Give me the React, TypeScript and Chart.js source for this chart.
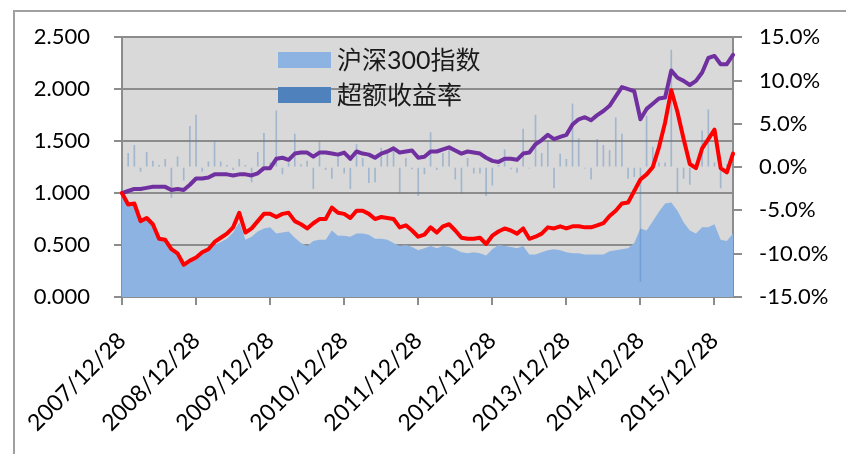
import React, { useEffect, useRef } from 'react';
import { Chart, registerables } from 'chart.js';

Chart.register(...registerables);

// Year tick labels shown on the x axis (every 12th month)
const yearTickLabels = [
  '2007/12/28', '2008/12/28', '2009/12/28', '2010/12/28', '2011/12/28',
  '2012/12/28', '2013/12/28', '2014/12/28', '2015/12/28',
];

// Monthly categories from 2007/12/28 (100 months)
const categories: string[] = [];
for (let i = 0; i < 100; i++) {
  const m = (11 + i) % 12 + 1;
  const y = 2007 + Math.floor((11 + i) / 12);
  categories.push(`${y}/${m}/28`);
}

const hs300 = [
  1.00, 0.89, 0.90, 0.73, 0.76, 0.70, 0.56, 0.55, 0.46, 0.42,
  0.31, 0.35, 0.38, 0.42, 0.45, 0.50, 0.53, 0.56, 0.62, 0.72,
  0.55, 0.58, 0.63, 0.66, 0.67, 0.61, 0.62, 0.63, 0.57, 0.52,
  0.49, 0.54, 0.55, 0.55, 0.64, 0.59, 0.59, 0.58, 0.61, 0.61,
  0.60, 0.56, 0.56, 0.55, 0.52, 0.49, 0.50, 0.48, 0.45, 0.47,
  0.49, 0.47, 0.49, 0.48, 0.46, 0.43, 0.42, 0.43, 0.42, 0.40,
  0.46, 0.50, 0.49, 0.48, 0.47, 0.49, 0.41, 0.41, 0.43, 0.45,
  0.46, 0.45, 0.43, 0.42, 0.42, 0.41, 0.41, 0.41, 0.41, 0.44,
  0.45, 0.46, 0.47, 0.52, 0.66, 0.64, 0.73, 0.82, 0.90, 0.91,
  0.83, 0.72, 0.64, 0.61, 0.67, 0.67, 0.70, 0.55, 0.54, 0.61,
];

const excessReturn = [
  0, 1.6, 2.5, -0.5, 1.7, 0.7, 0.2, 0.9, -3.5, 1.2,
  -1.5, 4.7, 6.0, -0.5, 0.6, 3.0, 0.6, 0.2, -0.3, 0.9,
  0.2, -1.7, 1.7, 3.9, 0.5, 6.5, -0.8, 0.5, 3.8, 0.3,
  0.7, -2.5, 3.0, -0.3, -1.3, 1.1, -0.7, -2.5, 2.6, 1.0,
  -1.8, -1.7, 2.2, 1.5, 2.3, -3.0, 1.0, -0.2, -3.3, -0.8,
  4.0, -0.3, 1.6, 1.9, -1.4, -3.0, 1.0, -0.7, -0.7, -3.3,
  -2.1, 0.2, 2.0, -0.2, -0.6, 4.4, -0.1, 6.0, 1.6, 3.0,
  -2.4, 1.5, 0.9, 7.3, 3.3, -0.1, -1.4, 3.2, 2.5, 1.9,
  5.7, 3.8, -1.3, -1.1, -13.2, 5.9, 2.3, 0.5, 0.5, 13.5,
  -3.0, -1.3, -2.0, 0.3, 4.2, 6.6, 0.5, -2.4, 0.3, 0,
];

const strategyNav = [
  1.00, 0.89, 0.90, 0.73, 0.76, 0.70, 0.56, 0.55, 0.46, 0.42,
  0.31, 0.35, 0.38, 0.43, 0.46, 0.53, 0.57, 0.61, 0.67, 0.81,
  0.62, 0.66, 0.73, 0.80, 0.80, 0.77, 0.80, 0.81, 0.73, 0.70,
  0.66, 0.71, 0.75, 0.75, 0.86, 0.81, 0.80, 0.76, 0.83, 0.83,
  0.80, 0.75, 0.77, 0.76, 0.75, 0.67, 0.69, 0.64, 0.58, 0.60,
  0.67, 0.62, 0.68, 0.70, 0.64, 0.57, 0.56, 0.56, 0.57, 0.51,
  0.59, 0.63, 0.66, 0.64, 0.61, 0.66, 0.56, 0.58, 0.61, 0.67,
  0.66, 0.68, 0.66, 0.68, 0.68, 0.67, 0.67, 0.69, 0.71, 0.78,
  0.83, 0.90, 0.91, 1.02, 1.13, 1.18, 1.25, 1.44, 1.68, 1.99,
  1.78, 1.52, 1.28, 1.24, 1.43, 1.52, 1.61, 1.24, 1.20, 1.38,
];

const excessNav = [
  1.00, 1.02, 1.04, 1.04, 1.05, 1.06, 1.06, 1.06, 1.03, 1.04,
  1.03, 1.08, 1.14, 1.14, 1.15, 1.18, 1.18, 1.18, 1.17, 1.18,
  1.18, 1.17, 1.19, 1.24, 1.24, 1.33, 1.34, 1.32, 1.38, 1.39,
  1.39, 1.35, 1.39, 1.39, 1.38, 1.37, 1.39, 1.33, 1.40, 1.38,
  1.37, 1.34, 1.38, 1.40, 1.43, 1.39, 1.40, 1.41, 1.34, 1.35,
  1.40, 1.40, 1.42, 1.44, 1.41, 1.38, 1.40, 1.39, 1.38, 1.34,
  1.31, 1.30, 1.33, 1.33, 1.32, 1.38, 1.39, 1.47, 1.51, 1.56,
  1.52, 1.54, 1.56, 1.66, 1.71, 1.73, 1.70, 1.75, 1.79, 1.84,
  1.93, 2.02, 2.00, 1.98, 1.71, 1.81, 1.86, 1.91, 1.92, 2.18,
  2.11, 2.08, 2.04, 2.08, 2.16, 2.30, 2.32, 2.24, 2.24, 2.33,
];

const FONT = 'Lato, "Noto Sans CJK SC", sans-serif';
const GRID = '#8c8c8c';

const bgPlugin = {
  id: 'plotBg',
  beforeDraw(chart: any) {
    const { ctx, chartArea } = chart;
    if (!chartArea) return;
    ctx.save();
    ctx.fillStyle = '#d9d9d9';
    ctx.fillRect(chartArea.left, chartArea.top, chartArea.right - chartArea.left, chartArea.bottom - chartArea.top);
    ctx.restore();
  },
};

const legendPlugin = {
  id: 'innerLegend',
  afterDraw(chart: any) {
    const { ctx } = chart;
    const items = chart.data.datasets
      .filter((d: any) => d.legendIndex !== undefined)
      .sort((a: any, b: any) => a.legendIndex - b.legendIndex);
    ctx.save();
    items.forEach((d: any, i: number) => {
      const y = 52 + i * 35;
      ctx.fillStyle = d.legendColor;
      ctx.fillRect(278, y, 53, 16);
      ctx.fillStyle = '#1a1a1a';
      ctx.font = `25px ${FONT}`;
      ctx.textBaseline = 'middle';
      ctx.textAlign = 'left';
      ctx.fillText(d.label, 337, y + 9);
    });
    ctx.restore();
  },
};

export default function App() {
  const ref = useRef<HTMLCanvasElement | null>(null);

  useEffect(() => {
    if (!ref.current) return;
    const chart = new Chart(ref.current, {
      type: 'bar',
      data: {
        labels: categories,
        datasets: [
          {
            type: 'line',
            label: '策略净值',
            data: strategyNav,
            borderColor: '#ff0000',
            borderWidth: 4,
            pointRadius: 0,
            tension: 0,
            fill: false,
            borderJoinStyle: 'round',
            borderCapStyle: 'round',
            yAxisID: 'y',
            order: 1,
          } as any,
          {
            type: 'line',
            label: '超额净值',
            data: excessNav,
            borderColor: '#7030a0',
            borderWidth: 4,
            pointRadius: 0,
            tension: 0,
            fill: false,
            borderJoinStyle: 'round',
            borderCapStyle: 'round',
            yAxisID: 'y',
            order: 2,
          } as any,
          {
            type: 'bar',
            label: '超额收益率',
            data: excessReturn,
            backgroundColor: 'rgba(79,129,189,0.4)',
            barThickness: 1,
            yAxisID: 'y1',
            order: 3,
            legendIndex: 1,
            legendColor: '#4f81bd',
          } as any,
          {
            type: 'line',
            label: '沪深300指数',
            data: hs300,
            borderWidth: 0,
            borderColor: 'rgba(0,0,0,0)',
            backgroundColor: '#8db3e2',
            pointRadius: 0,
            tension: 0,
            fill: 'origin',
            yAxisID: 'y',
            order: 4,
            legendIndex: 0,
            legendColor: '#8db3e2',
          } as any,
        ],
      },
      options: {
        animation: false,
        responsive: false,
        maintainAspectRatio: false,
        layout: { padding: { top: 34, left: 0, right: 0, bottom: 0 } },
        plugins: {
          legend: { display: false },
          tooltip: { enabled: false },
        },
        scales: {
          x: {
            type: 'category',
            offset: false,
            grid: {
              offset: false,
              drawOnChartArea: false,
              drawTicks: true,
              tickLength: 8,
              color: GRID,
              lineWidth: 2,
            },
            border: { display: true, color: GRID, width: 2 },
            ticks: {
              autoSkip: false,
              maxRotation: 45,
              minRotation: 45,
              padding: 22,
              color: '#000',
              font: { family: FONT, size: 23 },
              callback: (_v: any, i: number) => (i % 12 === 0 ? yearTickLabels[i / 12] : null),
            },
            afterFit: (s: any) => { s.height = 157; },
          },
          y: {
            position: 'left',
            min: 0,
            max: 2.5,
            grid: { color: GRID, lineWidth: 2, tickLength: 8 },
            border: { display: true, color: GRID, width: 2 },
            ticks: {
              stepSize: 0.5,
              padding: 24,
              color: '#000',
              font: { family: FONT, size: 22 },
              callback: (v: any) => Number(v).toFixed(3),
            },
            afterFit: (s: any) => { s.width = 122; },
          },
          y1: {
            position: 'right',
            min: -15,
            max: 15,
            grid: { drawOnChartArea: false, color: GRID, lineWidth: 2, tickLength: 9 },
            border: { display: true, color: GRID, width: 2 },
            ticks: {
              stepSize: 5,
              padding: 17,
              color: '#000',
              font: { family: FONT, size: 22 },
              callback: (v: any) => Number(v).toFixed(1) + '%',
            },
            afterFit: (s: any) => { s.width = 113; },
          },
        },
      },
      plugins: [bgPlugin, legendPlugin],
    } as any);
    return () => chart.destroy();
  }, []);

  return (
    <div style={{ position: 'fixed', left: 0, top: 0, width: 846, height: 454, background: '#fff', overflow: 'hidden' }}>
      <canvas ref={ref} width={846} height={454} style={{ display: 'block', width: 846, height: 454 }} />
      <div
        style={{
          position: 'absolute',
          left: 13,
          top: 10,
          width: 900,
          height: 500,
          border: '2px solid #a0a0a0',
          pointerEvents: 'none',
          boxSizing: 'border-box',
        }}
      />
    </div>
  );
}
